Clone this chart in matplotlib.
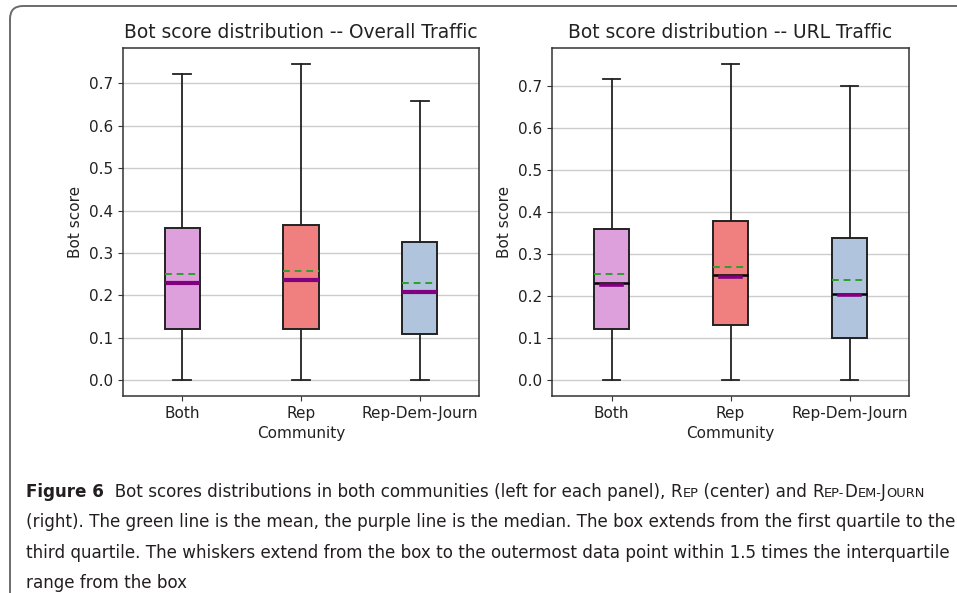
import matplotlib
matplotlib.use("Agg")
import matplotlib.pyplot as plt
from matplotlib.patches import FancyBboxPatch
from matplotlib.transforms import IdentityTransform

# Communities shown on the x axis
communities = ["Both", "Rep", "Rep-Dem-Journ"]
box_colors = ["plum", "lightcoral", "lightsteelblue"]

# Overall traffic summary statistics
overall_whislo = [0.0, 0.0, 0.0]
overall_q1 = [0.12, 0.12, 0.11]
overall_med = [0.23, 0.237, 0.208]
overall_mean = [0.251, 0.258, 0.23]
overall_q3 = [0.359, 0.366, 0.327]
overall_whishi = [0.721, 0.746, 0.659]

# URL traffic summary statistics
url_whislo = [0.0, 0.0, 0.0]
url_q1 = [0.122, 0.131, 0.101]
url_med = [0.231, 0.25, 0.205]
url_mean = [0.253, 0.27, 0.239]
url_q3 = [0.36, 0.38, 0.34]
url_whishi = [0.718, 0.754, 0.70]

W, H = 957, 593
fig = plt.figure(figsize=(W / 100, H / 100), dpi=100)


def make_stats(lo, q1, med, mean, q3, hi):
    return [dict(whislo=a, q1=b, med=c, mean=d, q3=e, whishi=f, fliers=[])
            for a, b, c, d, e, f in zip(lo, q1, med, mean, q3, hi)]


def draw_panel(ax, stats, title, median_style):
    if median_style == "purple":
        medprops = dict(color="purple", linewidth=3.0)
    else:
        medprops = dict(color="black", linewidth=1.8)
    bp = ax.bxp(stats, widths=0.3, patch_artist=True, showmeans=True,
                meanline=True, medianprops=medprops,
                meanprops=dict(color="tab:green", linestyle=(0, (3.5, 2.5)),
                               linewidth=1.4),
                boxprops=dict(edgecolor="#222222", linewidth=1.4),
                whiskerprops=dict(linewidth=1.3, color="#222222"),
                capprops=dict(linewidth=1.3, color="#222222"))
    for patch, c in zip(bp["boxes"], box_colors):
        patch.set_facecolor(c)
    if median_style == "black":
        # short purple stroke just under the black median
        for i, s in enumerate(stats):
            ax.plot([i + 1 - 0.09, i + 1 + 0.09], [s["med"] - 0.003] * 2,
                    color="purple", linewidth=2.6, zorder=2.5)
    ax.set_xticks(range(1, len(communities) + 1))
    ax.set_xticklabels(communities)
    ax.yaxis.grid(True, color="#cccccc", linewidth=1.0)
    ax.set_axisbelow(True)
    ax.set_title(title, fontsize=13.4, pad=7, color="#222222")
    ax.set_xlabel("Community", fontsize=11, color="#222222")
    ax.set_ylabel("Bot score", fontsize=11, color="#222222")
    ax.tick_params(labelsize=11, labelcolor="#222222", color="#333333")
    for sp in ax.spines.values():
        sp.set_linewidth(1.1)
        sp.set_color("#333333")


ax1 = fig.add_axes([123 / W, 1 - 396 / H, 356 / W, 348 / H])
ax2 = fig.add_axes([552 / W, 1 - 396 / H, 357 / W, 348 / H])

draw_panel(ax1, make_stats(overall_whislo, overall_q1, overall_med,
                           overall_mean, overall_q3, overall_whishi),
           "Bot score distribution -- Overall Traffic", "purple")
draw_panel(ax2, make_stats(url_whislo, url_q1, url_med,
                           url_mean, url_q3, url_whishi),
           "Bot score distribution -- URL Traffic", "black")

# frame around the figure and its caption, in pixel units
frame = FancyBboxPatch((10, -40), 1000, H - 6 + 40,
                       boxstyle="round,pad=0,rounding_size=13",
                       transform=IdentityTransform(), facecolor="none",
                       edgecolor="#6b6b6b", linewidth=1.4, clip_on=False)
fig.patches.append(frame)

# caption, written run by run so small capitals can be mixed in
cap_family = ["Liberation Sans Narrow", "DejaVu Sans"]
cap_color = "#231f20"
renderer = fig.canvas.get_renderer()


def draw_runs(x_px, y_px, runs, size):
    x = x_px
    for text, scale, weight in runs:
        t = fig.text(x / W, 1 - y_px / H, text, fontsize=size * scale,
                     fontweight=weight, family=cap_family, color=cap_color,
                     ha="left", va="baseline")
        bb = t.get_window_extent(renderer)
        x += bb.width
    return x


line2 = "(right). The green line is the mean, the purple line is the median. The box extends from the first quartile to the"
probe = fig.text(0, 0, line2, fontsize=10, family=cap_family)
cap_size = 10 * 926 / probe.get_window_extent(renderer).width
probe.remove()

sc = 0.78
lines = [
    [("Figure 6", 1, "bold"),
     ("  Bot scores distributions in both communities (left for each panel), ", 1, "normal"),
     ("R", 1, "normal"), ("EP", sc, "normal"), (" (center) and ", 1, "normal"),
     ("R", 1, "normal"), ("EP-", sc, "normal"), ("D", 1, "normal"),
     ("EM-", sc, "normal"), ("J", 1, "normal"), ("OURN", sc, "normal")],
    [(line2, 1, "normal")],
    [("third quartile. The whiskers extend from the box to the outermost data point within 1.5 times the interquartile", 1, "normal")],
    [("range from the box", 1, "normal")],
]
for i, runs in enumerate(lines):
    draw_runs(26, 497 + i * 30.4, runs, cap_size)

fig.savefig("out.png", dpi=100)
